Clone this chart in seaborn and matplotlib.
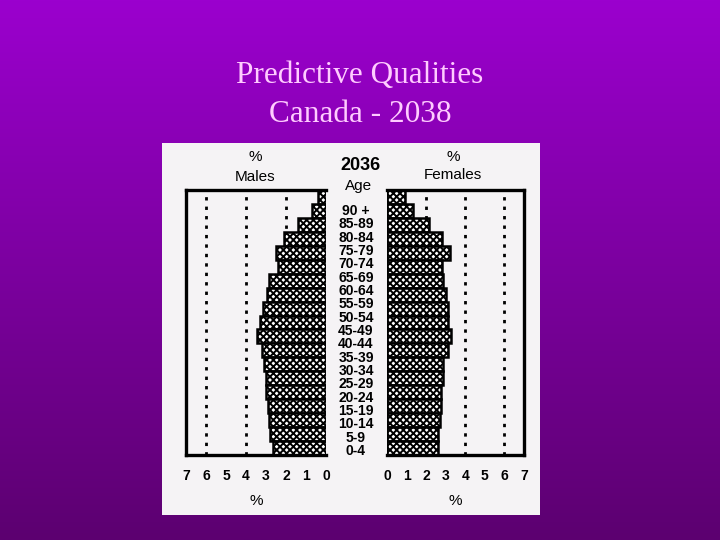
import numpy as np
import pandas as pd
import seaborn as sns
import matplotlib.pyplot as plt
from matplotlib.patches import Rectangle

sns.set_theme(style='white')
plt.rcParams['font.family'] = ['Liberation Sans', 'DejaVu Sans']
plt.rcParams['hatch.linewidth'] = 1.4

ages = ['90 +', '85-89', '80-84', '75-79', '70-74', '65-69', '60-64', '55-59', '50-54',
        '45-49', '40-44', '35-39', '30-34', '25-29', '20-24', '15-19', '10-14', '5-9', '0-4']
males = [0.4, 0.7, 1.4, 2.1, 2.5, 2.4, 2.85, 2.95, 3.15,
         3.3, 3.45, 3.2, 3.1, 3.0, 3.0, 2.9, 2.85, 2.8, 2.65]
females = [0.9, 1.35, 2.15, 2.8, 3.2, 2.8, 2.85, 3.0, 3.1,
           3.1, 3.25, 3.1, 2.85, 2.85, 2.75, 2.75, 2.7, 2.6, 2.6]
ticks = [0, 1, 2, 3, 4, 5, 6, 7]
guides = [2, 4, 6]

df = pd.DataFrame({'age': ages, 'Males': males, 'Females': females})

fig = plt.figure(figsize=(7.2, 5.4), dpi=100)

# purple gradient background
bg = fig.add_axes([0, 0, 1, 1], zorder=-10)
grad = np.linspace(0, 1, 256).reshape(-1, 1)
top = np.array([155, 0, 206]) / 255
bot = np.array([92, 0, 112]) / 255
img = top + (bot - top) * grad[:, :, None]
bg.imshow(img, aspect='auto', extent=[0, 1, 0, 1])
bg.axis('off')

fig.text(0.5, 1 - 76 / 540, 'Predictive Qualities', ha='center', va='center',
         family='Liberation Serif', fontsize=22.5, color='#ffccff')
fig.text(0.5, 1 - 114 / 540, 'Canada - 2038', ha='center', va='center',
         family='Liberation Serif', fontsize=22.5, color='#ffccff')

# scanned white panel
fig.patches.append(Rectangle((162 / 720, 1 - 515 / 540), 378 / 720, 372 / 540,
                             transform=fig.transFigure, facecolor='#f5f3f5',
                             edgecolor='none', zorder=-5))

bottom = 1 - 455 / 540
height = 265 / 540
ax_m = fig.add_axes([186 / 720, bottom, 140 / 720, height])
ax_f = fig.add_axes([387 / 720, bottom, 137 / 720, height])

for ax, col in [(ax_m, 'Males'), (ax_f, 'Females')]:
    ax.set_facecolor('none')
    for g in guides:
        ax.axvline(g, color='black', ls=(0, (1.2, 2.2)), lw=2, zorder=0)
    sns.barplot(data=df, x=col, y='age', orient='h', ax=ax, color='white',
                edgecolor='black', linewidth=1.8, width=1.0, hatch='xxxxx', zorder=2)
    ax.set_xlim(0, 7)
    ax.set_ylim(len(ages) - 0.5, -0.5)
    ax.set_xticks(ticks)
    ax.set_xticklabels([str(t) for t in ticks], fontsize=10, fontweight='bold', color='black')
    ax.tick_params(axis='x', length=0, pad=10)
    ax.set_yticks([])
    ax.set_xlabel('%', fontsize=11, color='black', labelpad=8)
    ax.set_ylabel('')
    for s in ax.spines.values():
        s.set_visible(True)
        s.set_color('black')
        s.set_linewidth(2.4)

ax_m.invert_xaxis()
ax_m.spines['right'].set_visible(False)
ax_f.spines['left'].set_visible(False)

# age labels between the halves (scanned spacing differs slightly from the bars)
for i, a in enumerate(ages):
    ypix = 211 + i * (240 / 18)
    fig.text(356 / 720, 1 - ypix / 540, a, ha='center', va='center', fontsize=10,
             fontweight='bold', color='black')

fig.text(255 / 720, 1 - 157 / 540, '%', ha='center', va='center', fontsize=11, color='black')
fig.text(255 / 720, 1 - 177 / 540, 'Males', ha='center', va='center', fontsize=11, color='black')
fig.text(453 / 720, 1 - 157 / 540, '%', ha='center', va='center', fontsize=11, color='black')
fig.text(453 / 720, 1 - 175 / 540, 'Females', ha='center', va='center', fontsize=11, color='black')
fig.text(360 / 720, 1 - 166 / 540, '2036', ha='center', va='center', fontsize=13,
         fontweight='bold', color='black')
fig.text(359 / 720, 1 - 186 / 540, 'Age', ha='center', va='center', fontsize=11, color='black')

fig.savefig('out.png', dpi=100)
